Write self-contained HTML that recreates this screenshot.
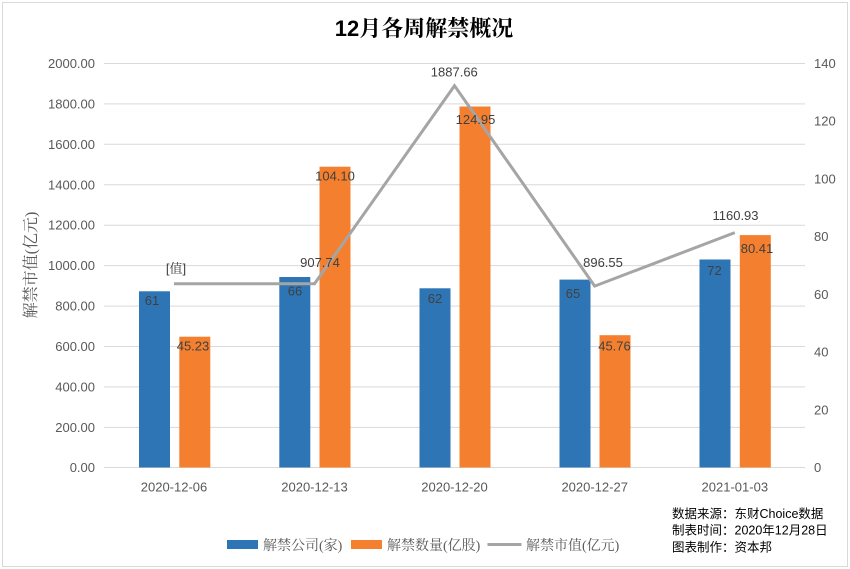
<!DOCTYPE html>
<html><head><meta charset="utf-8"><style>
html,body{margin:0;padding:0;background:#fff;}
svg{display:block;}
</style></head><body>
<svg width="850" height="569" viewBox="0 0 850 569" xmlns="http://www.w3.org/2000/svg">
<rect x="0" y="0" width="850" height="569" fill="#fff"/>
<rect x="2.5" y="2.5" width="845" height="564" fill="none" stroke="#d9d9d9" stroke-width="1"/>
<text x="424" y="36" text-anchor="middle" font-family="'Liberation Sans','Noto Serif CJK SC',serif" font-weight="bold" font-size="22" fill="#000">12月各周解禁概况</text>
<g stroke="#d9d9d9" stroke-width="1">
<line x1="104" x2="805" y1="63.5" y2="63.5"/>
<line x1="104" x2="805" y1="103.9" y2="103.9"/>
<line x1="104" x2="805" y1="144.3" y2="144.3"/>
<line x1="104" x2="805" y1="184.8" y2="184.8"/>
<line x1="104" x2="805" y1="225.2" y2="225.2"/>
<line x1="104" x2="805" y1="265.6" y2="265.6"/>
<line x1="104" x2="805" y1="306.1" y2="306.1"/>
<line x1="104" x2="805" y1="346.5" y2="346.5"/>
<line x1="104" x2="805" y1="386.9" y2="386.9"/>
<line x1="104" x2="805" y1="427.4" y2="427.4"/>
<line x1="104" x2="805" y1="467.5" y2="467.5"/>
</g>
<g font-family="'Liberation Sans',sans-serif" font-size="13" fill="#595959" text-anchor="end">
<text x="95" y="68">2000.00</text>
<text x="95" y="108.4">1800.00</text>
<text x="95" y="148.8">1600.00</text>
<text x="95" y="189.3">1400.00</text>
<text x="95" y="229.7">1200.00</text>
<text x="95" y="270.1">1000.00</text>
<text x="95" y="310.6">800.00</text>
<text x="95" y="351">600.00</text>
<text x="95" y="391.4">400.00</text>
<text x="95" y="431.9">200.00</text>
<text x="95" y="472">0.00</text>
</g>
<g font-family="'Liberation Sans',sans-serif" font-size="13" fill="#595959" text-anchor="start">
<text x="814" y="68">140</text>
<text x="814" y="125.7">120</text>
<text x="814" y="183.4">100</text>
<text x="814" y="241.1">80</text>
<text x="814" y="298.9">60</text>
<text x="814" y="356.6">40</text>
<text x="814" y="414.3">20</text>
<text x="814" y="472">0</text>
</g>
<text transform="translate(36,265) rotate(-90)" text-anchor="middle" font-family="'Liberation Serif','Noto Serif CJK SC',serif" font-size="16" fill="#595959">解禁市值(亿元)</text>
<!-- bars -->
<g fill="#2E75B6">
<rect x="139" y="291.3" width="31" height="176.2"/>
<rect x="279.3" y="277" width="31" height="190.5"/>
<rect x="419.5" y="288.3" width="31" height="179.2"/>
<rect x="559.5" y="279.6" width="31" height="187.9"/>
<rect x="699.5" y="259.5" width="31" height="208"/>
</g>
<g fill="#F4802F">
<rect x="179.3" y="336.7" width="31" height="130.8"/>
<rect x="319.5" y="166.7" width="31" height="300.8"/>
<rect x="459.5" y="106.5" width="31" height="361"/>
<rect x="599.5" y="335.2" width="31" height="132.3"/>
<rect x="739.8" y="235.1" width="31" height="232.4"/>
</g>
<!-- line -->
<polyline points="174,283.8 314.5,283.8 454.5,85.7 594.7,286.1 734.8,232.6" fill="none" stroke="#A5A5A5" stroke-width="3" stroke-linejoin="miter"/>
<!-- bar labels -->
<g font-family="'Liberation Sans',sans-serif" font-size="13" fill="#404040" text-anchor="middle">
<text x="152" y="305">61</text>
<text x="193" y="350.5">45.23</text>
<text x="295" y="295.5">66</text>
<text x="335" y="180.5">104.10</text>
<text x="435" y="303">62</text>
<text x="475.5" y="124">124.95</text>
<text x="573" y="298">65</text>
<text x="614.5" y="350.5">45.76</text>
<text x="714.5" y="274.8">72</text>
<text x="757" y="253">80.41</text>
</g>
<!-- line labels -->
<g font-family="'Liberation Sans','Noto Serif CJK SC',sans-serif" font-size="13" fill="#404040" text-anchor="middle">
<text x="176" y="273">[值]</text>
<text x="320" y="266.8">907.74</text>
<text x="454.3" y="76.5">1887.66</text>
<text x="603" y="267">896.55</text>
<text x="735.5" y="219.8">1160.93</text>
</g>
<!-- x labels -->
<g font-family="'Liberation Sans',sans-serif" font-size="13" fill="#595959" text-anchor="middle">
<text x="174" y="491.5">2020-12-06</text>
<text x="314.5" y="491.5">2020-12-13</text>
<text x="454.5" y="491.5">2020-12-20</text>
<text x="594.7" y="491.5">2020-12-27</text>
<text x="734.8" y="491.5">2021-01-03</text>
</g>
<!-- legend -->
<rect x="227" y="540" width="31" height="9" fill="#2E75B6"/>
<rect x="351" y="540" width="31" height="9" fill="#F4802F"/>
<line x1="487.5" x2="521.5" y1="544.5" y2="544.5" stroke="#A5A5A5" stroke-width="3"/>
<g font-family="'Liberation Serif','Noto Serif CJK SC',serif" font-size="14" fill="#595959">
<text x="263" y="550">解禁公司(家)</text>
<text x="387" y="550">解禁数量(亿股)</text>
<text x="526" y="550">解禁市值(亿元)</text>
</g>
<!-- source -->
<g font-family="'Liberation Sans','Noto Sans CJK SC',sans-serif" font-size="12.5" fill="#000">
<text x="672" y="518">数据来源：东财Choice数据</text>
<text x="672" y="534.7">制表时间：2020年12月28日</text>
<text x="672" y="551.4">图表制作：资本邦</text>
</g>
</svg>
</body></html>
